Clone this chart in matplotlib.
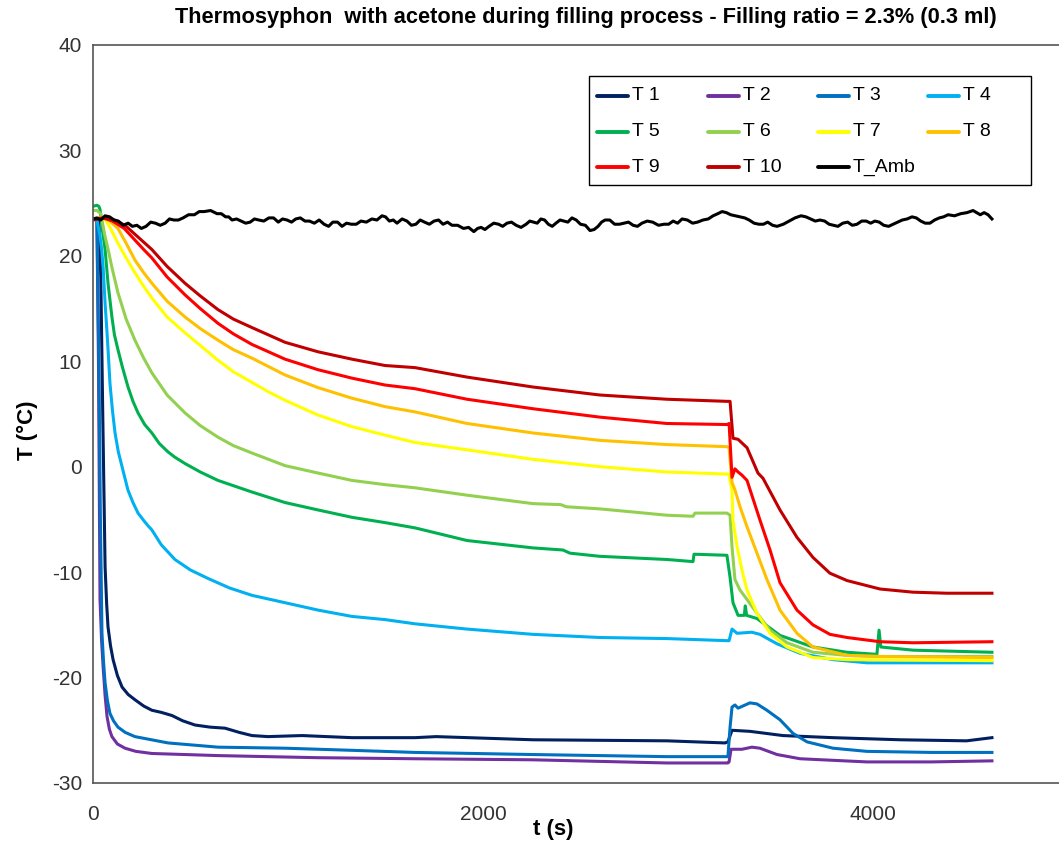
import matplotlib
matplotlib.use("Agg")
import matplotlib.pyplot as plt
from matplotlib.lines import Line2D
from matplotlib.patches import Rectangle

# ---------------- data ----------------
t_T1 = [0, 20, 30, 40, 50, 62, 70, 77, 90, 103, 125, 149, 180, 215, 260, 302, 350, 405, 460,
        523, 600, 677, 750, 815, 897, 1072, 1328, 1651, 1760, 2256, 2943, 3241, 3256, 3277,
        3369, 3538, 3795, 4139, 4480, 4610]
T1 = [23.5, 23.5, 23.4, 18.0, 5.0, -9.5, -13.0, -15.2, -17.0, -18.3, -19.8, -20.9, -21.6,
      -22.1, -22.7, -23.1, -23.3, -23.6, -24.1, -24.5, -24.7, -24.8, -25.2, -25.5, -25.6,
      -25.5, -25.7, -25.7, -25.6, -25.9, -26.0, -26.2, -26.1, -25.0, -25.1, -25.5, -25.7,
      -25.9, -26.0, -25.7]

t_T2 = [0, 20, 28, 36, 44, 52, 62, 72, 84, 97, 125, 164, 220, 302, 641, 1154, 1651, 2256, 2943,
        3256, 3262, 3272, 3328, 3379, 3420, 3508, 3626, 3969, 4300, 4610]
T2 = [23.5, 23.5, 10.0, -12.6, -16.5, -19.0, -21.7, -23.7, -24.9, -25.6, -26.3, -26.7, -27.0,
      -27.2, -27.4, -27.6, -27.7, -27.8, -28.1, -28.1, -28.0, -26.8, -26.8, -26.6, -26.7,
      -27.3, -27.7, -28.0, -28.0, -27.9]

t_T3 = [0, 20, 30, 38, 46, 54, 62, 74, 87, 105, 128, 165, 215, 300, 385, 641, 985, 1328, 1651,
        2256, 2943, 3256, 3267, 3277, 3292, 3308, 3369, 3405, 3456, 3523, 3590, 3662, 3795,
        3969, 4300, 4610]
T3 = [23.5, 23.5, 10.0, -5.0, -15.8, -18.5, -20.5, -22.2, -23.4, -24.1, -24.7, -25.2, -25.6,
      -25.9, -26.2, -26.6, -26.7, -26.9, -27.1, -27.3, -27.5, -27.5, -24.7, -22.8, -22.6,
      -22.9, -22.4, -22.5, -23.1, -24.0, -25.3, -26.1, -26.7, -27.0, -27.1, -27.1]

t_T4 = [0, 20, 35, 45, 52, 62, 72, 80, 87, 100, 113, 130, 149, 179, 205, 231, 260, 282, 302,
        350, 420, 500, 590, 700, 815, 985, 1154, 1328, 1497, 1651, 1918, 2256, 2600, 2943, 3251,
        3262, 3277, 3303, 3379, 3420, 3508, 3626, 3795, 3969, 4300, 4610]
T4 = [23.5, 23.4, 22.0, 20.5, 18.9, 15.5, 12.7, 10.2, 7.9, 5.3, 3.2, 1.4, 0.0, -2.2, -3.4,
      -4.4, -5.1, -5.6, -6.0, -7.4, -8.8, -9.8, -10.6, -11.5, -12.2, -12.9, -13.6, -14.2,
      -14.5, -14.9, -15.4, -15.9, -16.2, -16.3, -16.5, -16.5, -15.4, -15.8, -15.7, -15.9,
      -16.8, -17.7, -18.3, -18.6, -18.6, -18.6]

t_T5 = [0, 20, 30, 36, 42, 50, 62, 77, 97, 110, 128, 150, 179, 205, 231, 265, 302, 340, 385,
        420, 472, 550, 641, 815, 985, 1154, 1328, 1497, 1651, 1918, 2256, 2410, 2446, 2600,
        2943, 3077, 3082, 3251, 3267, 3282, 3308, 3340, 3345, 3352, 3405, 3523, 3692, 3867,
        4020, 4031, 4040, 4205, 4610]
T5 = [24.7, 24.8, 24.7, 24.4, 23.5, 22.2, 20.6, 17.4, 14.2, 12.5, 11.1, 9.5, 7.6, 6.2, 5.1,
      4.0, 3.2, 2.2, 1.4, 0.9, 0.3, -0.5, -1.3, -2.4, -3.4, -4.1, -4.8, -5.3, -5.8, -7.0,
      -7.7, -7.9, -8.2, -8.5, -8.8, -9.0, -8.3, -8.4, -10.5, -12.9, -14.1, -14.1, -13.2,
      -14.1, -14.4, -16.0, -17.1, -17.6, -17.8, -15.5, -17.1, -17.4, -17.6]

t_T6 = [0, 20, 40, 60, 80, 97, 128, 170, 215, 260, 302, 380, 472, 550, 641, 720, 815, 985,
        1154, 1328, 1497, 1651, 1918, 2256, 2400, 2427, 2600, 2943, 3077, 3087, 3251, 3267,
        3277, 3292, 3318, 3354, 3405, 3472, 3559, 3692, 3867, 4036, 4610]
T6 = [24.3, 24.3, 24.0, 22.0, 20.4, 18.9, 16.5, 14.0, 12.0, 10.3, 8.9, 6.8, 5.1, 3.9, 2.8,
      2.0, 1.3, 0.1, -0.6, -1.3, -1.7, -2.0, -2.7, -3.5, -3.6, -3.8, -4.0, -4.6, -4.7, -4.4,
      -4.4, -4.6, -7.6, -10.7, -11.7, -12.6, -13.9, -15.5, -16.7, -17.6, -17.9, -18.0, -18.0]

t_T7 = [0, 30, 62, 90, 128, 170, 215, 260, 302, 380, 472, 550, 641, 720, 815, 900, 985, 1154,
        1328, 1497, 1651, 1918, 2256, 2600, 2943, 3251, 3262, 3277, 3282, 3303, 3328, 3354,
        3405, 3472, 3559, 3692, 3867, 4610]
T7 = [23.5, 23.6, 23.5, 22.6, 21.2, 19.8, 18.4, 17.1, 16.0, 14.2, 12.7, 11.5, 10.1, 9.0, 8.0,
      7.1, 6.3, 4.9, 3.8, 3.0, 2.3, 1.6, 0.7, 0.0, -0.5, -0.7, -0.7, -2.3, -5.1, -7.6, -9.8,
      -11.7, -13.9, -15.8, -17.1, -18.1, -18.3, -18.4]

t_T8 = [0, 40, 80, 128, 170, 215, 260, 302, 380, 472, 550, 641, 720, 815, 900, 985, 1154, 1328,
        1497, 1651, 1918, 2256, 2600, 2943, 3251, 3262, 3277, 3292, 3318, 3354, 3405, 3456,
        3523, 3610, 3692, 3867, 4036, 4610]
T8 = [23.5, 23.6, 23.4, 22.6, 21.2, 19.6, 18.4, 17.4, 15.7, 14.2, 13.1, 12.0, 11.1, 10.3, 9.5,
      8.7, 7.5, 6.5, 5.7, 5.2, 4.1, 3.2, 2.5, 2.1, 1.9, 1.8, -1.5, -2.2, -3.8, -5.7, -8.2,
      -10.7, -13.6, -15.8, -17.1, -17.9, -18.0, -18.1]

t_T9 = [0, 52, 100, 160, 215, 260, 302, 380, 472, 550, 641, 720, 815, 900, 985, 1154, 1328,
        1497, 1651, 1918, 2256, 2600, 2943, 3251, 3262, 3277, 3292, 3308, 3328, 3354, 3421,
        3472, 3523, 3610, 3692, 3779, 3867, 4036, 4205, 4610]
T9 = [23.5, 23.6, 23.3, 22.6, 21.5, 20.6, 19.8, 18.0, 16.3, 15.0, 13.6, 12.6, 11.6, 10.9,
      10.2, 9.2, 8.4, 7.75, 7.4, 6.4, 5.5, 4.7, 4.1, 4.0, 4.1, -1.0, -0.2, -0.5, -0.8, -1.3,
      -5.1, -7.9, -11.0, -13.6, -15.0, -15.9, -16.2, -16.6, -16.7, -16.6]

t_T10 = [0, 62, 110, 164, 230, 302, 380, 472, 550, 641, 720, 815, 900, 985, 1154, 1328, 1497,
         1651, 1918, 2256, 2600, 2943, 3251, 3267, 3282, 3308, 3354, 3410, 3436, 3523, 3610,
         3692, 3779, 3867, 4036, 4205, 4379, 4610]
T10 = [23.4, 23.6, 23.4, 22.9, 21.8, 20.6, 19.0, 17.4, 16.2, 14.9, 14.0, 13.2, 12.5, 11.8,
       10.9, 10.2, 9.6, 9.4, 8.5, 7.56, 6.8, 6.4, 6.2, 6.2, 2.7, 2.6, 1.8, -0.6, -1.1, -4.1,
       -6.7, -8.6, -10.1, -10.8, -11.6, -11.9, -12.0, -12.0]

t_Amb = [0, 20, 40, 62, 85, 108, 130, 155, 180, 202, 225, 248, 272, 296, 320, 345, 370, 392,
         415, 438, 462, 490, 520, 545, 570, 603, 636, 658, 680, 696, 713, 736, 760, 783, 806,
         828, 850, 876, 902, 926, 950, 972, 995, 1018, 1040, 1063, 1087, 1110, 1135, 1160, 1185,
         1208, 1230, 1254, 1277, 1300, 1325, 1350, 1374, 1402, 1430, 1456, 1482, 1500, 1520,
         1540, 1559, 1585, 1610, 1633, 1656, 1678, 1700, 1725, 1749, 1772, 1795, 1818, 1841,
         1870, 1900, 1926, 1953, 1972, 1990, 2010, 2031, 2055, 2080, 2101, 2123, 2146, 2170,
         2195, 2221, 2240, 2260, 2278, 2297, 2316, 2335, 2355, 2374, 2395, 2415, 2435, 2456,
         2478, 2500, 2525, 2549, 2570, 2590, 2608, 2626, 2650, 2675, 2700, 2723, 2746, 2770,
         2792, 2815, 2842, 2870, 2900, 2928, 2952, 2975, 2998, 3021, 3048, 3075, 3100, 3128,
         3155, 3180, 3204, 3226, 3248, 3270, 3294, 3318, 3342, 3365, 3390, 3415, 3438, 3460,
         3485, 3508, 3540, 3570, 3600, 3631, 3656, 3680, 3704, 3728, 3752, 3775, 3798, 3820,
         3845, 3870, 3894, 3918, 3942, 3965, 3988, 4010, 4032, 4055, 4080, 4103, 4126, 4150,
         4175, 4200, 4222, 4245, 4268, 4292, 4316, 4340, 4362, 4385, 4418, 4450, 4482, 4513,
         4532, 4550, 4570, 4590, 4610]
T_Amb = [23.5, 23.6, 23.4, 23.8, 23.7, 23.4, 23.3, 22.9, 23.1, 22.8, 22.9, 22.6, 22.8, 23.2,
         23.1, 22.9, 23.1, 23.5, 23.4, 23.4, 23.6, 23.9, 23.9, 24.2, 24.2, 24.3, 24.0, 24.0,
         23.7, 23.7, 23.4, 23.5, 23.3, 23.1, 23.2, 23.5, 23.4, 23.3, 23.6, 23.6, 23.2, 23.5,
         23.4, 23.2, 23.5, 23.6, 23.3, 23.3, 23.1, 23.4, 23.0, 22.8, 23.2, 23.2, 22.8, 23.1,
         23.0, 23.0, 23.3, 23.2, 23.5, 23.4, 23.8, 23.7, 23.3, 23.4, 23.1, 23.5, 23.3, 22.9,
         23.0, 23.4, 23.2, 23.0, 23.3, 23.4, 23.0, 23.2, 22.9, 22.9, 22.6, 22.7, 22.3, 22.6,
         22.7, 22.5, 22.8, 23.1, 23.0, 22.8, 23.1, 23.2, 22.9, 22.7, 23.0, 23.3, 23.2, 23.1,
         23.5, 23.4, 23.0, 22.8, 23.1, 23.4, 23.3, 23.2, 23.6, 23.4, 23.0, 22.9, 22.4, 22.5,
         22.8, 23.2, 23.4, 23.4, 23.0, 23.0, 23.1, 23.2, 22.9, 22.8, 23.1, 23.3, 23.2, 22.9,
         23.0, 23.0, 23.3, 23.1, 23.5, 23.4, 23.1, 23.2, 23.4, 23.5, 23.8, 24.0, 24.2, 24.1,
         23.9, 23.8, 23.7, 23.6, 23.4, 23.1, 23.0, 23.0, 23.2, 22.9, 22.8, 23.0, 23.3, 23.6,
         23.8, 23.7, 23.5, 23.3, 23.4, 23.3, 23.0, 22.9, 22.8, 23.1, 23.2, 22.9, 23.0, 23.3,
         23.3, 23.1, 23.3, 23.2, 22.9, 22.8, 23.0, 23.2, 23.4, 23.5, 23.7, 23.6, 23.3, 23.1,
         23.1, 23.4, 23.6, 23.7, 23.9, 23.8, 24.0, 24.1, 24.3, 24.1, 23.9, 24.1, 23.9, 23.5]

series_names = ["T 1", "T 2", "T 3", "T 4", "T 5", "T 6", "T 7", "T 8", "T 9", "T 10", "T_Amb"]
series_t = [t_T1, t_T2, t_T3, t_T4, t_T5, t_T6, t_T7, t_T8, t_T9, t_T10, t_Amb]
series_T = [T1, T2, T3, T4, T5, T6, T7, T8, T9, T10, T_Amb]
series_colors = ["#002060", "#7030A0", "#0070C0", "#00B0F0", "#00B050", "#92D050",
                 "#FFFF00", "#FFC000", "#FF0000", "#C00000", "#000000"]

x_ticks = [0, 2000, 4000]
y_ticks = [-30, -20, -10, 0, 10, 20, 30, 40]
title_text = "Thermosyphon  with acetone during filling process - Filling ratio = 2.3% (0.3 ml)"

# ---------------- figure ----------------
plt.rcParams["font.family"] = ["Liberation Sans", "DejaVu Sans"]
plt.rcParams["axes.unicode_minus"] = False

W, H = 1059, 851
fig = plt.figure(figsize=(W / 100, H / 100), dpi=100)
left_px, bottom_px, top_px = 93, 783, 45
ax = fig.add_axes([left_px / W, 1 - bottom_px / H, 1 - left_px / W, (bottom_px - top_px) / H])


def fx(px):
    return px / W


def fy(py):
    return 1 - py / H


handles = []
for name, tt, yy, c in zip(series_names, series_t, series_T, series_colors):
    (h,) = ax.plot(tt, yy, color=c, lw=2.2, label=name, solid_joinstyle="round")
    handles.append(h)

x_per_px = 2000 / 390.0
ax.set_xlim(0, (W - left_px) * x_per_px)
ax.set_ylim(-30, 40)
ax.set_xticks(x_ticks)
ax.set_yticks(y_ticks)
ax.tick_params(length=0, labelsize=15, colors="#333333")
ax.tick_params(axis="x", pad=16)
ax.tick_params(axis="y", pad=8)
for s in ["left", "bottom", "top"]:
    ax.spines[s].set_color("#555555")
    ax.spines[s].set_linewidth(1.2)
ax.spines["right"].set_visible(False)

fig.text(fx(553), fy(829), "t (s)", ha="center", va="center", fontsize=16, fontweight="bold")
fig.text(fx(27), fy(430), "T (°C)", ha="center", va="center", rotation=90, fontsize=16,
         fontweight="bold")
fig.text(fx(586), fy(18), title_text, ha="center", va="center", fontsize=15.7,
         fontweight="bold")

# legend (Excel style, row-major, 4 columns)
fig.add_artist(Rectangle((fx(589), fy(185)), fx(1031) - fx(589), fy(76) - fy(185),
                         transform=fig.transFigure, facecolor="white", edgecolor="black",
                         lw=1.0, zorder=5))
col_x = [597, 708, 818, 928]
row_y = [96, 132, 167]
for i, (name, c) in enumerate(zip(series_names, series_colors)):
    r, k = divmod(i, 4)
    x0 = col_x[k]
    y0 = row_y[r]
    fig.add_artist(Line2D([fx(x0), fx(x0 + 31)], [fy(y0), fy(y0)], transform=fig.transFigure,
                          color=c, lw=2.8, solid_capstyle="round", zorder=6))
    fig.text(fx(x0 + 35), fy(y0), name, ha="left", va="center", fontsize=14, zorder=6)

fig.savefig("out.png", dpi=100)
